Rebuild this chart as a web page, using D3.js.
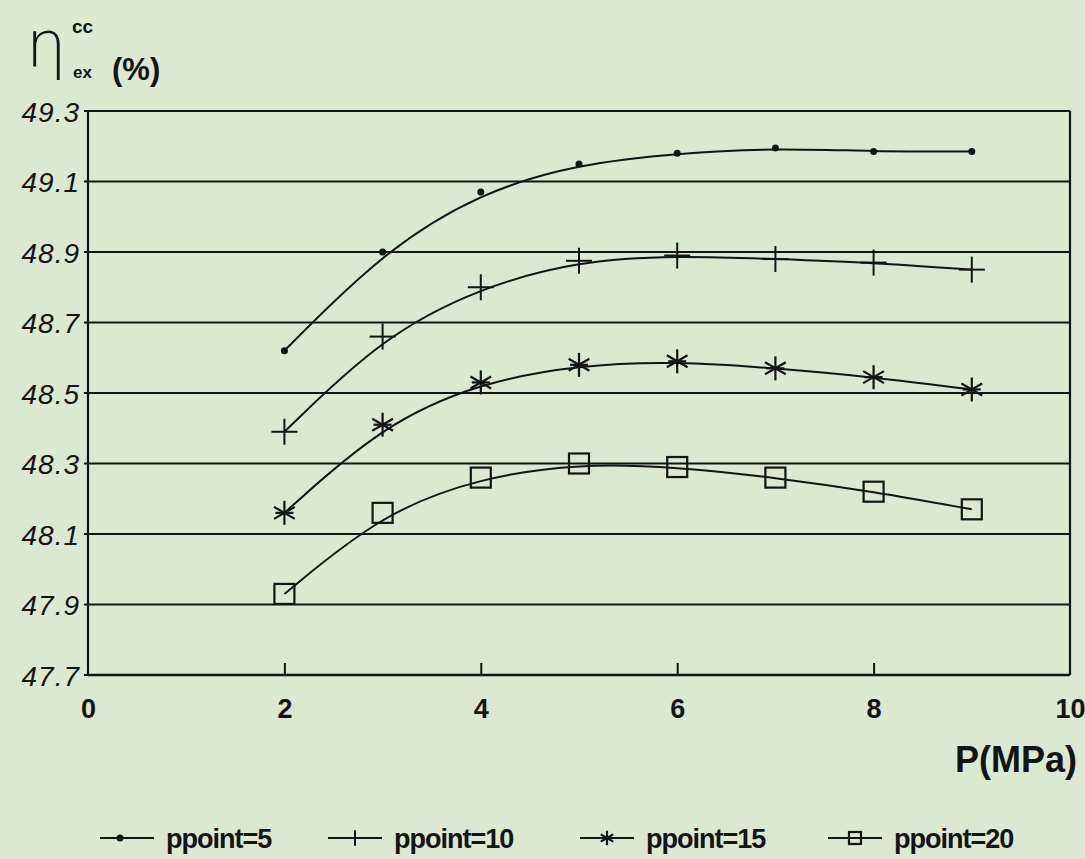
<!DOCTYPE html>
<html>
<head>
<meta charset="utf-8">
<script src="https://cdn.jsdelivr.net/npm/d3@7"></script>
<style>
  body { margin: 0; background: #dce8cf; }
  svg { display: block; }
</style>
</head>
<body>
<figure id="chart" style="margin:0"></figure>
<script>
// data
const pressures = [2, 3, 4, 5, 6, 7, 8, 9];
const ppoint5 = [48.62, 48.90, 49.07, 49.15, 49.18, 49.195, 49.185, 49.185];
const ppoint10 = [48.39, 48.66, 48.80, 48.875, 48.89, 48.88, 48.87, 48.85];
const ppoint15 = [48.16, 48.41, 48.53, 48.58, 48.59, 48.57, 48.545, 48.51];
const ppoint20 = [47.93, 48.16, 48.26, 48.30, 48.29, 48.26, 48.22, 48.17];
const seriesNames = ["ppoint=5", "ppoint=10", "ppoint=15", "ppoint=20"];
const yTicks = [49.3, 49.1, 48.9, 48.7, 48.5, 48.3, 48.1, 47.9, 47.7];
const xTicks = [0, 2, 4, 6, 8, 10];

const width = 1085, height = 859;
const ink = "#141414";
const font = "Liberation Sans, Arial, sans-serif";

const svg = d3.select("#chart")
  .append("svg")
  .attr("width", width)
  .attr("height", height);

svg.append("rect").attr("width", width).attr("height", height).attr("fill", "#dce8cf");

const x = d3.scaleLinear().domain([0, 10]).range([88, 1070]);
const y = d3.scaleLinear().domain([47.7, 49.3]).range([675, 111]);

// gridlines across the plot
svg.append("g")
  .selectAll("line")
  .data(yTicks)
  .enter()
  .append("line")
  .attr("x1", x(0) - 4)
  .attr("x2", x(10))
  .attr("y1", d => y(d))
  .attr("y2", d => y(d))
  .attr("stroke", ink)
  .attr("stroke-width", 1.8);

// frame
svg.append("line")
  .attr("x1", x(0)).attr("x2", x(0))
  .attr("y1", y(49.3)).attr("y2", y(47.7))
  .attr("stroke", ink).attr("stroke-width", 2.2);
svg.append("line")
  .attr("x1", x(10)).attr("x2", x(10))
  .attr("y1", y(49.3)).attr("y2", y(47.7))
  .attr("stroke", ink).attr("stroke-width", 2.2);
svg.append("line")
  .attr("x1", x(0)).attr("x2", x(10))
  .attr("y1", y(47.7)).attr("y2", y(47.7))
  .attr("stroke", ink).attr("stroke-width", 2.6);

// x axis: ticks pointing up inside, bold labels
const xAxis = svg.append("g")
  .attr("transform", "translate(0," + y(47.7) + ")")
  .call(d3.axisBottom(x).tickValues(xTicks).tickSize(-12).tickPadding(24).tickFormat(d3.format("d")));
xAxis.select(".domain").remove();
xAxis.selectAll(".tick line")
  .attr("stroke", ink).attr("stroke-width", 2)
  .attr("display", d => (d === 0 || d === 10) ? "none" : null);
xAxis.selectAll("text")
  .attr("fill", ink)
  .style("font-family", font)
  .style("font-weight", "bold")
  .style("font-size", "27px");

// y axis labels, italic
const yAxis = svg.append("g")
  .attr("transform", "translate(" + x(0) + ",0)")
  .call(d3.axisLeft(y).tickValues(yTicks).tickSize(0).tickPadding(8).tickFormat(d3.format(".1f")));
yAxis.select(".domain").remove();
yAxis.selectAll("text")
  .attr("fill", ink)
  .attr("dy", "0.36em")
  .style("font-family", font)
  .style("font-style", "italic")
  .style("font-size", "28px")
  .style("letter-spacing", "1px");

// series
const allSeries = [ppoint5, ppoint10, ppoint15, ppoint20];
const line = d3.line()
  .x((d, i) => x(pressures[i]))
  .y(d => y(d))
  .curve(d3.curveBasis);

svg.append("g")
  .selectAll("path")
  .data(allSeries)
  .enter()
  .append("path")
  .attr("d", d => line(d))
  .attr("fill", "none")
  .attr("stroke", ink)
  .attr("stroke-width", 2);

// markers
function drawMarker(g, kind, s) {
  if (kind === 0) {
    g.append("circle").attr("r", 3.5).attr("fill", ink);
  } else if (kind === 1) {
    g.append("line").attr("x1", -13 * s).attr("x2", 13 * s).attr("stroke", ink).attr("stroke-width", 2);
    g.append("line").attr("y1", -13 * s).attr("y2", 13 * s).attr("stroke", ink).attr("stroke-width", 2);
  } else if (kind === 2) {
    [90, 30, 150, 0].forEach(a => {
      const r = (a === 0 ? 9 : 12) * s, t = a * Math.PI / 180;
      g.append("line")
        .attr("x1", -r * Math.cos(t)).attr("y1", -r * Math.sin(t))
        .attr("x2", r * Math.cos(t)).attr("y2", r * Math.sin(t))
        .attr("stroke", ink).attr("stroke-width", 2.2);
    });
  } else {
    g.append("rect").attr("x", -10 * s).attr("y", -10 * s).attr("width", 20 * s).attr("height", 20 * s)
      .attr("fill", "none").attr("stroke", ink).attr("stroke-width", 2.2);
  }
}

allSeries.forEach((vals, k) => {
  svg.append("g")
    .selectAll("g")
    .data(vals)
    .enter()
    .append("g")
    .attr("transform", (d, i) => "translate(" + x(pressures[i]) + "," + y(d) + ")")
    .each(function () { drawMarker(d3.select(this), k, 1); });
});

// y title: eta with cc / ex and (%)
svg.append("text")
  .attr("x", 26).attr("y", 67)
  .style("font-family", "DejaVu Sans, sans-serif")
  .style("font-weight", "200")
  .style("font-size", "64px")
  .attr("fill", ink)
  .text("η");
svg.append("text")
  .attr("x", 72).attr("y", 33)
  .style("font-family", font)
  .style("font-weight", "bold").style("font-size", "19px")
  .attr("fill", ink).text("cc");
svg.append("text")
  .attr("x", 73).attr("y", 78)
  .style("font-family", font)
  .style("font-weight", "bold").style("font-size", "17px")
  .attr("fill", ink).text("ex");
svg.append("text")
  .attr("x", 112).attr("y", 80)
  .style("font-family", font)
  .style("font-weight", "bold").style("font-size", "31px")
  .attr("fill", ink).text("(%)");

// x title
svg.append("text")
  .attr("x", 1077).attr("y", 772)
  .attr("text-anchor", "end")
  .style("font-family", font)
  .style("font-weight", "bold").style("font-size", "36px")
  .attr("fill", ink).text("P(MPa)");

// legend
const legendX = [100, 328, 580, 828];
const legend = svg.append("g").attr("transform", "translate(0,838)");
seriesNames.forEach((name, k) => {
  const g = legend.append("g").attr("transform", "translate(" + legendX[k] + ",0)");
  g.append("line").attr("x1", 0).attr("x2", 54).attr("stroke", ink).attr("stroke-width", 2);
  drawMarker(g.append("g").attr("transform", "translate(" + (k === 0 ? 20 : 27) + ",0)"), k, 0.6);
  g.append("text")
    .attr("x", 66).attr("y", 10)
    .style("font-family", font)
    .style("font-weight", "bold").style("font-size", "27px")
    .style("letter-spacing", "-1px")
    .attr("fill", ink).text(name);
});
</script>
</body>
</html>
